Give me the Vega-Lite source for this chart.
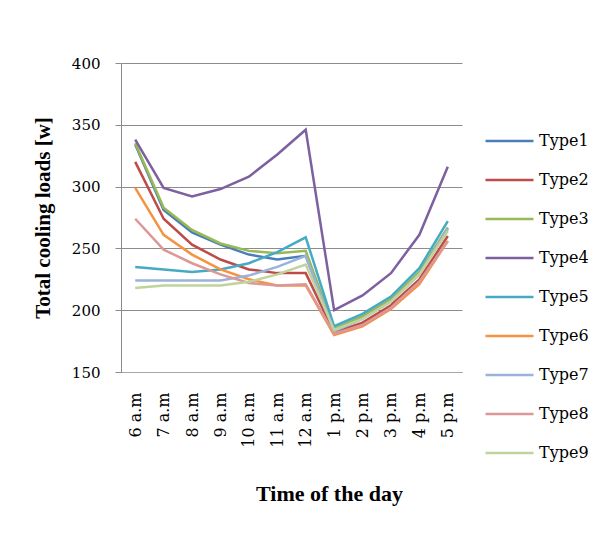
{
  "$schema": "https://vega.github.io/schema/vega-lite/v6.json",
  "autosize": "none",
  "width": 341,
  "height": 309,
  "padding": {"left": 121, "top": 63, "right": 142, "bottom": 162},
  "background": "white",
  "data": {
    "values": [
      {"time": "6 a.m", "Type1": 334, "Type2": 320, "Type3": 335, "Type4": 338, "Type5": 235, "Type6": 299, "Type7": 224, "Type8": 274, "Type9": 218},
      {"time": "7 a.m", "Type1": 281, "Type2": 274, "Type3": 283, "Type4": 299, "Type5": 233, "Type6": 261, "Type7": 224, "Type8": 249, "Type9": 220},
      {"time": "8 a.m", "Type1": 263, "Type2": 253, "Type3": 265, "Type4": 292, "Type5": 231, "Type6": 245, "Type7": 224, "Type8": 238, "Type9": 220},
      {"time": "9 a.m", "Type1": 253, "Type2": 241, "Type3": 254, "Type4": 298, "Type5": 233, "Type6": 233, "Type7": 224, "Type8": 229, "Type9": 220},
      {"time": "10 a.m", "Type1": 245, "Type2": 233, "Type3": 248, "Type4": 308, "Type5": 238, "Type6": 225, "Type7": 228, "Type8": 222, "Type9": 223},
      {"time": "11 a.m", "Type1": 241, "Type2": 230, "Type3": 246, "Type4": 326, "Type5": 247, "Type6": 220, "Type7": 235, "Type8": 220, "Type9": 229},
      {"time": "12 a.m", "Type1": 244, "Type2": 230, "Type3": 248, "Type4": 346, "Type5": 259, "Type6": 220, "Type7": 244, "Type8": 221, "Type9": 237},
      {"time": "1 p.m", "Type1": 184, "Type2": 182, "Type3": 185, "Type4": 200, "Type5": 187, "Type6": 180, "Type7": 183, "Type8": 181, "Type9": 184},
      {"time": "2 p.m", "Type1": 194, "Type2": 190, "Type3": 195, "Type4": 212, "Type5": 197, "Type6": 187, "Type7": 193, "Type8": 188, "Type9": 193},
      {"time": "3 p.m", "Type1": 208, "Type2": 204, "Type3": 209, "Type4": 230, "Type5": 211, "Type6": 201, "Type7": 207, "Type8": 202, "Type9": 207},
      {"time": "4 p.m", "Type1": 230, "Type2": 225, "Type3": 231, "Type4": 261, "Type5": 234, "Type6": 221, "Type7": 229, "Type8": 223, "Type9": 229},
      {"time": "5 p.m", "Type1": 266, "Type2": 260, "Type3": 267, "Type4": 316, "Type5": 272, "Type6": 256, "Type7": 266, "Type8": 256, "Type9": 264}
    ]
  },
  "transform": [
    {"fold": ["Type1", "Type2", "Type3", "Type4", "Type5", "Type6", "Type7", "Type8", "Type9"], "as": ["type", "load"]}
  ],
  "mark": {"type": "line", "strokeWidth": 2.5, "strokeJoin": "miter"},
  "encoding": {
    "x": {
      "field": "time",
      "type": "ordinal",
      "sort": null,
      "scale": {"type": "point", "padding": 0.5},
      "axis": {
        "title": "Time of the day",
        "titleFont": "Liberation Serif",
        "titleFontSize": 22,
        "titleFontWeight": "bold",
        "titleColor": "#000000",
        "titlePadding": 36,
        "titleX": 208,
        "labelAngle": -90,
        "labelFont": "DejaVu Serif",
        "labelFontSize": 16,
        "labelColor": "#000000",
        "labelPadding": 20,
        "ticks": false,
        "domainColor": "#a6a6a6",
        "domainWidth": 1,
        "grid": false
      }
    },
    "y": {
      "field": "load",
      "type": "quantitative",
      "scale": {"domain": [150, 400], "nice": false, "zero": false},
      "axis": {
        "title": "Total cooling loads [w]",
        "titleFont": "Liberation Serif",
        "titleFontSize": 21,
        "titleFontWeight": "bold",
        "titleColor": "#000000",
        "titlePadding": 18,
        "values": [150, 200, 250, 300, 350, 400],
        "labelFont": "DejaVu Serif",
        "labelFontSize": 15,
        "labelColor": "#000000",
        "labelPadding": 15,
        "tickSize": 6,
        "tickColor": "#8c8c8c",
        "domainColor": "#8c8c8c",
        "gridColor": "#8c8c8c",
        "gridWidth": 1.2
      }
    },
    "color": {
      "field": "type",
      "type": "nominal",
      "scale": {
        "domain": ["Type1", "Type2", "Type3", "Type4", "Type5", "Type6", "Type7", "Type8", "Type9"],
        "range": ["#4a7ebb", "#be4b48", "#98b954", "#7d60a0", "#46aac5", "#f69240", "#9bb3d9", "#dc9896", "#bed49a"]
      },
      "legend": {
        "title": null,
        "orient": "none",
        "legendX": 363,
        "legendY": 70,
        "padding": 0,
        "symbolType": "stroke",
        "symbolSize": 2304,
        "symbolStrokeWidth": 2.5,
        "clipHeight": 16,
        "rowPadding": 23,
        "labelFont": "DejaVu Serif",
        "labelFontSize": 16,
        "labelColor": "#000000",
        "labelOffset": 4
      }
    }
  },
  "config": {
    "view": {"stroke": null}
  }
}
